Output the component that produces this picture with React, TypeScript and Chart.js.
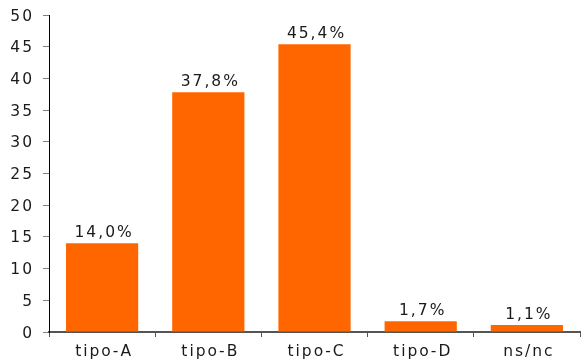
import React, { useEffect, useRef } from "react";
import { Chart, registerables } from "chart.js";

Chart.register(...registerables);

const categories = ["tipo-A", "tipo-B", "tipo-C", "tipo-D", "ns/nc"];
const values = [14.0, 37.8, 45.4, 1.7, 1.1];
const valueLabels = ["14,0%", "37,8%", "45,4%", "1,7%", "1,1%"];
const yMax = 50;
const yStep = 5;

const FONT = "'DejaVu Sans', Verdana, sans-serif";
const FONT_SIZE = 15.5;
const SPACING = 2;
const TEXT_COLOR = "#1a1a1a";

function drawSpaced(ctx: CanvasRenderingContext2D, text: string, x: number, y: number, align: "left" | "center" | "right") {
  const chars = Array.from(text);
  const widths = chars.map((c) => ctx.measureText(c).width);
  const total = widths.reduce((a, b) => a + b, 0) + SPACING * (chars.length - 1);
  let cx = align === "left" ? x : align === "center" ? x - total / 2 : x - total;
  ctx.textAlign = "left";
  chars.forEach((c, i) => {
    ctx.fillText(c, cx, y);
    cx += widths[i] + SPACING;
  });
}

const textPlugin = {
  id: "spacedText",
  afterDraw(chart: any) {
    const ctx: CanvasRenderingContext2D = chart.ctx;
    ctx.save();
    ctx.font = `${FONT_SIZE}px ${FONT}`;
    ctx.fillStyle = TEXT_COLOR;
    ctx.textBaseline = "alphabetic";
    const meta = chart.getDatasetMeta(0);
    meta.data.forEach((bar: any, i: number) => {
      drawSpaced(ctx, valueLabels[i], bar.x + 1, bar.y - 6, "center");
    });
    const ys = chart.scales.y;
    ys.ticks.forEach((t: any, i: number) => {
      const py = ys.getPixelForTick(i);
      drawSpaced(ctx, String(t.label), ys.right - 17, py + 5.5, "right");
    });
    const xs = chart.scales.x;
    xs.ticks.forEach((t: any, i: number) => {
      const px = xs.getPixelForTick(i);
      drawSpaced(ctx, String(t.label), px + 1, xs.top + 24, "center");
    });
    ctx.restore();
  },
};

export default function App() {
  const ref = useRef<HTMLCanvasElement>(null);
  useEffect(() => {
    if (!ref.current) return;
    const chart = new Chart(ref.current, {
      type: "bar",
      data: {
        labels: categories,
        datasets: [
          {
            data: values,
            backgroundColor: "#FF6600",
            borderWidth: 0,
            categoryPercentage: 1,
            barPercentage: 0.68,
          },
        ],
      },
      options: {
        animation: false,
        responsive: false,
        maintainAspectRatio: false,
        layout: { padding: { top: 15, right: 1, left: 0, bottom: 0 } },
        plugins: { legend: { display: false }, tooltip: { enabled: false } },
        scales: {
          x: {
            grid: {
              display: true,
              drawOnChartArea: false,
              drawTicks: true,
              tickLength: 5,
              color: "#555555",
              offset: true,
            },
            border: { display: true, color: "#555555", width: 2 },
            ticks: {
              color: "rgba(0,0,0,0)",
              font: { family: FONT, size: FONT_SIZE },
              padding: 3,
            },
            afterFit(scale: any) {
              scale.height = 28;
              scale.paddingLeft = 0;
              scale.paddingRight = 0;
            },
          },
          y: {
            min: 0,
            max: yMax,
            grid: {
              display: true,
              drawOnChartArea: false,
              drawTicks: true,
              tickLength: 6,
              color: "#808080",
            },
            border: { display: true, color: "#000000", width: 1 },
            ticks: {
              stepSize: yStep,
              color: "rgba(0,0,0,0)",
              font: { family: FONT, size: FONT_SIZE },
              padding: 10,
            },
            afterFit(scale: any) {
              scale.width = 49;
              scale.paddingTop = 0;
              scale.paddingBottom = 0;
            },
          },
        },
      },
      plugins: [textPlugin],
    });
    return () => chart.destroy();
  }, []);
  return (
    <div style={{ position: "absolute", left: 0, top: 0, width: 581, height: 360, background: "#fff" }}>
      <canvas ref={ref} width={581} height={360} style={{ display: "block" }} />
    </div>
  );
}
